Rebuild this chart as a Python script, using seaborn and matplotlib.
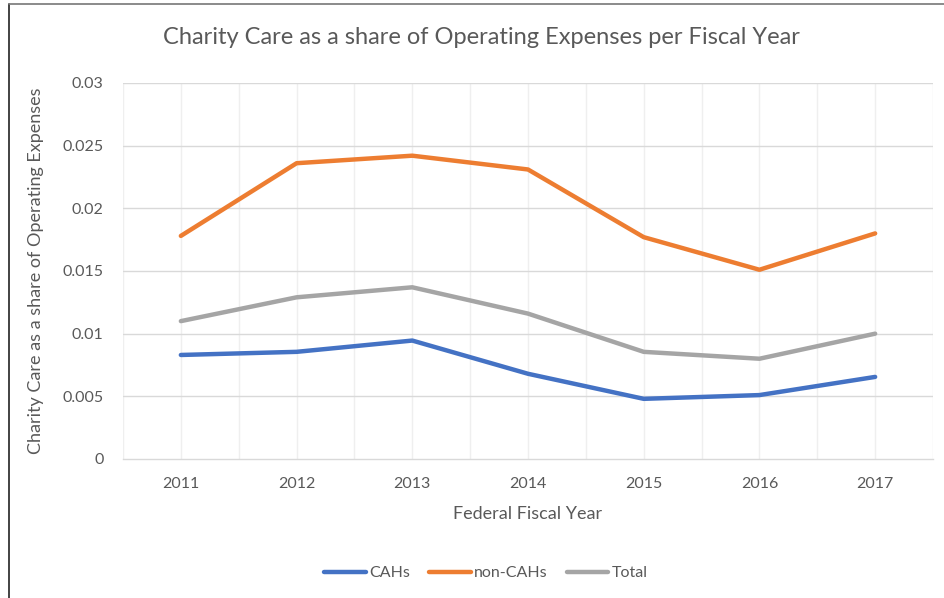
import matplotlib
matplotlib.use("Agg")
import matplotlib.pyplot as plt
import seaborn as sns
import pandas as pd
from matplotlib.ticker import FuncFormatter
from matplotlib.lines import Line2D

years = [2011, 2012, 2013, 2014, 2015, 2016, 2017]
cahs = [0.0083, 0.00855, 0.00945, 0.0068, 0.0048, 0.0051, 0.00655]
non_cahs = [0.0178, 0.0236, 0.0242, 0.0231, 0.0177, 0.0151, 0.0180]
total = [0.0110, 0.0129, 0.0137, 0.0116, 0.00855, 0.0080, 0.0100]
series_names = ["CAHs", "non-CAHs", "Total"]
colors = ["#4472C4", "#ED7D31", "#A5A5A5"]
yticks = [0, 0.005, 0.01, 0.015, 0.02, 0.025, 0.03]

df = pd.DataFrame({
    "Year": years * 3,
    "Value": cahs + non_cahs + total,
    "Series": [series_names[0]] * 7 + [series_names[1]] * 7 + [series_names[2]] * 7,
})

sns.set_theme(style="white")
plt.rcParams["font.family"] = ["Lato", "DejaVu Sans"]

fig = plt.figure(figsize=(9.45, 5.98), dpi=100)
ax = fig.add_axes([123 / 945, 1 - 459 / 598, (933 - 123) / 945, (459 - 83) / 598])

sns.lineplot(data=df, x="Year", y="Value", hue="Series", palette=colors,
             linewidth=3.2, ax=ax, legend=False, solid_capstyle="round", zorder=3)

ax.set_xlim(2010.5, 2017.5)
ax.set_ylim(0, 0.03)
ax.set_yticks(yticks)
ax.yaxis.set_major_formatter(FuncFormatter(lambda v, p: "%g" % v))
ax.set_xticks(years)
ax.set_xticklabels([str(y) for y in years])

grid_c = "#D9D9D9"
for yv in yticks[1:]:
    ax.axhline(yv, color=grid_c, lw=1.0, zorder=1)
xs = [2010.5 + 0.5 * i for i in range(15)]
for xv in xs:
    ax.axvline(xv, color="#EFEFEF", lw=1.0, zorder=0.5)

for s in ["top", "right", "left"]:
    ax.spines[s].set_visible(False)
ax.spines["bottom"].set_color(grid_c)
ax.spines["bottom"].set_linewidth(1.0)

ax.tick_params(axis="both", length=0, labelsize=11.5, labelcolor="#595959")
ax.tick_params(axis="x", pad=13)
ax.tick_params(axis="y", pad=14)

ax.set_xlabel("Federal Fiscal Year", fontsize=13, color="#595959", va="center")
ax.xaxis.set_label_coords(0.5, -(514 - 459) / 376)
ax.set_ylabel("Charity Care as a share of Operating Expenses", fontsize=13,
              color="#595959", va="center")
ax.yaxis.set_label_coords(-(123 - 36) / 810, 0.5)

fig.suptitle("Charity Care as a share of Operating Expenses per Fiscal Year",
             x=481 / 945, y=1 - 38 / 598, va="center", fontsize=17, color="#595959")

handles = [Line2D([0], [0], color=c, lw=3.2, solid_capstyle="round") for c in colors]
fig.legend(handles, series_names, loc="center", bbox_to_anchor=(486 / 945, 1 - 573 / 598),
           ncol=3, frameon=False, fontsize=11.5, labelcolor="#595959",
           handlelength=2.6, handletextpad=0.2, columnspacing=1.2)

# chart border (top and left edges visible)
fig.add_artist(Line2D([9 / 945, 9 / 945], [0, 1 - 4 / 598], transform=fig.transFigure,
                      color="#222222", lw=1.2))
fig.add_artist(Line2D([9 / 945, 1], [1 - 4 / 598, 1 - 4 / 598], transform=fig.transFigure,
                      color="#777777", lw=1.2))

fig.savefig("out.png", dpi=100)
